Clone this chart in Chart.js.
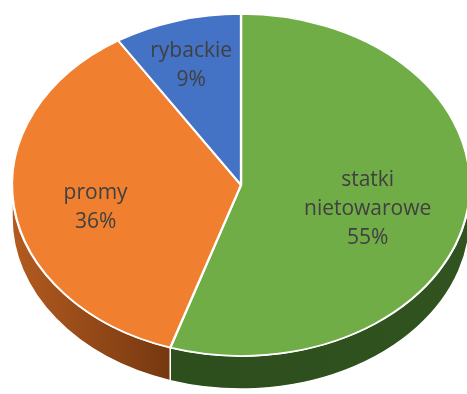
<!DOCTYPE html>
<html>
<head>
<meta charset="utf-8">
<script src="https://cdn.jsdelivr.net/npm/chart.js@4"></script>
<style>
  html, body { margin: 0; padding: 0; background: #fff; }
  #pie { display: block; }
</style>
</head>
<body>
<canvas id="pie" width="467" height="394"></canvas>
<script>
// data
const categories = ['statki nietowarowe', 'promy', 'rybackie'];
const shares = [55, 36, 9];
const topColors = ['#70AD47', '#F0802F', '#4472C4'];
const sideColors = [['#2c4b1c', '#30531f'], ['#b35b20', '#763810'], ['#2f5597', '#2f5597']];

// fake 3D: squash the round pie into an ellipse and put a rim under it
const pie3d = {
  id: 'pie3d',
  beforeDatasetsDraw(chart, args, o) {
    const ctx = chart.ctx;
    const meta = chart.getDatasetMeta(0);
    const spans = [[0, Math.PI], [2 * Math.PI, 3 * Math.PI]];

    meta.data.forEach((arc, i) => {
      spans.forEach(([lo, hi]) => {
        const a0 = Math.max(arc.startAngle, lo);
        const a1 = Math.min(arc.endAngle, hi);
        if (a1 <= a0) return;
        const g = ctx.createLinearGradient(o.cx - o.rx, 0, o.cx + o.rx * Math.cos(a0), 0);
        g.addColorStop(0, sideColors[i][0]);
        g.addColorStop(1, sideColors[i][1]);
        ctx.beginPath();
        ctx.ellipse(o.cx, o.cy, o.rx, o.ry, 0, a0, a1);
        ctx.ellipse(o.cx, o.cy + o.depth, o.rx, o.ry, 0, a1, a0, true);
        ctx.closePath();
        ctx.fillStyle = g;
        ctx.fill();
        ctx.strokeStyle = '#fff';
        ctx.lineWidth = 1.5;
        ctx.stroke();
      });
    });

    const ref = meta.data[0];
    ctx.save();
    ctx.translate(o.cx, o.cy);
    ctx.scale(o.rx / ref.outerRadius, o.ry / ref.outerRadius);
    ctx.translate(-ref.x, -ref.y);
  },
  afterDatasetsDraw(chart, args, o) {
    const ctx = chart.ctx;
    ctx.restore();
    const meta = chart.getDatasetMeta(0);
    ctx.save();
    ctx.font = o.font;
    ctx.fillStyle = '#404040';
    ctx.textAlign = 'center';
    ctx.textBaseline = 'middle';
    meta.data.forEach((arc, i) => {
      const mid = (arc.startAngle + arc.endAngle) / 2;
      const f = o.labelRadius[i];
      const x = o.cx + Math.cos(mid) * o.rx * f;
      const y = o.cy + o.labelDy + Math.sin(mid) * o.ry * f;
      const lines = categories[i].split(' ').concat([shares[i] + '%']);
      const top = y - (lines.length - 1) * o.lineHeight / 2;
      lines.forEach((t, k) => ctx.fillText(t, x, top + k * o.lineHeight));
    });
    ctx.restore();
  }
};

new Chart(document.getElementById('pie'), {
  type: 'pie',
  data: {
    labels: categories,
    datasets: [{
      data: shares,
      backgroundColor: topColors,
      borderColor: '#ffffff',
      borderWidth: 2,
      clip: false
    }]
  },
  options: {
    responsive: false,
    animation: false,
    events: [],
    plugins: {
      legend: { display: false },
      tooltip: { enabled: false },
      pie3d: {
        cx: 241, cy: 185, rx: 229, ry: 171, depth: 33,
        font: '21px "Open Sans"',
        lineHeight: 29,
        labelDy: 9,
        labelRadius: [0.56, 0.64, 0.78]
      }
    }
  },
  plugins: [pie3d]
});
</script>
</body>
</html>
